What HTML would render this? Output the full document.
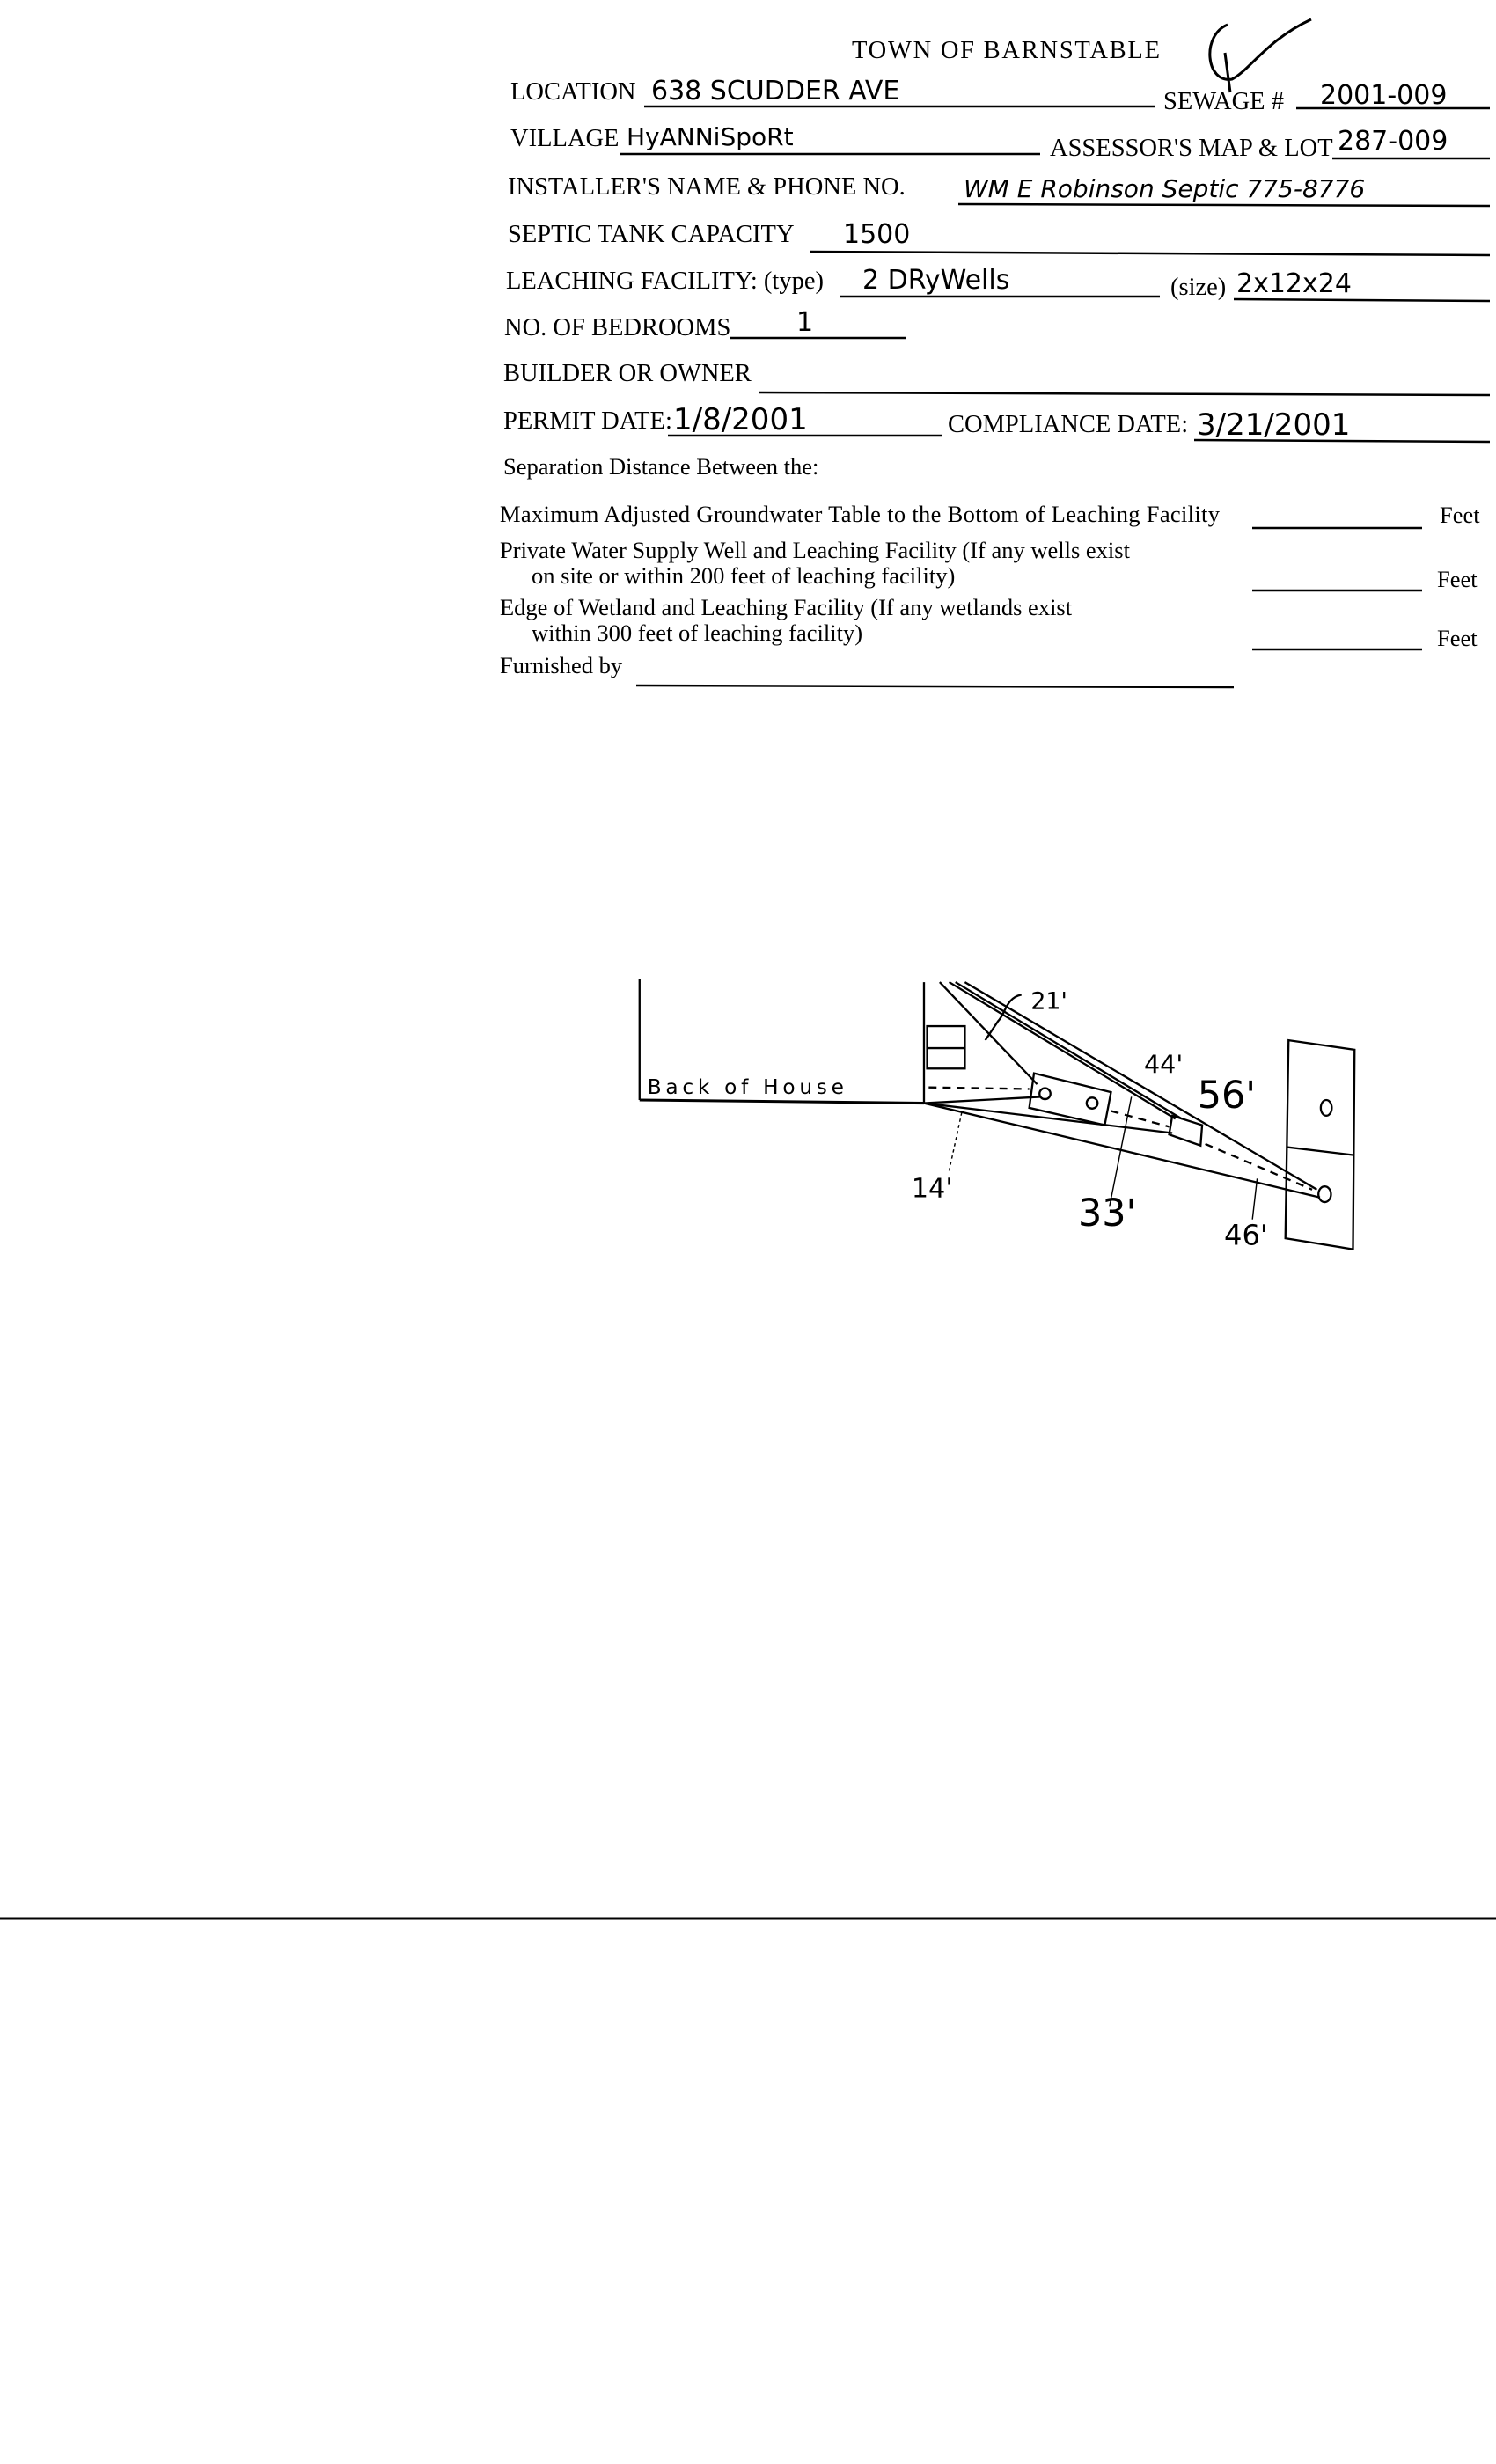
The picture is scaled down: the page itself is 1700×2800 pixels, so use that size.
<!DOCTYPE html>
<html><head><meta charset="utf-8"><style>
html,body{margin:0;padding:0;background:#fff;}
svg{display:block;}
.f{font-family:"Liberation Serif",serif;font-size:28.5px;fill:#000;}
.s{font-family:"Liberation Serif",serif;font-size:26.5px;fill:#000;}
.h{font-family:"DejaVu Sans",sans-serif;font-size:30px;fill:#000;}
.k{font-family:"DejaVu Sans",sans-serif;fill:#000;}
</style></head><body>
<svg width="1700" height="2800" viewBox="0 0 1700 2800" xmlns="http://www.w3.org/2000/svg">
<rect width="1700" height="2800" fill="#fff"/>
<g stroke="#000" stroke-width="2.5" fill="none">
<line x1="732" y1="121" x2="1313" y2="121"/>
<line x1="1473" y1="123" x2="1693" y2="123"/>
<line x1="705" y1="175" x2="1182" y2="175"/>
<line x1="1514" y1="180" x2="1693" y2="180"/>
<line x1="1089" y1="232" x2="1693" y2="234"/>
<line x1="920" y1="286" x2="1693" y2="290"/>
<line x1="955" y1="337" x2="1318" y2="337"/>
<line x1="1402" y1="340" x2="1693" y2="342"/>
<line x1="830" y1="384" x2="1030" y2="384"/>
<line x1="862" y1="446" x2="1693" y2="449"/>
<line x1="759" y1="495" x2="1071" y2="495"/>
<line x1="1357" y1="500" x2="1693" y2="502"/>
<line x1="1423" y1="600" x2="1616" y2="600"/>
<line x1="1423" y1="671" x2="1616" y2="671"/>
<line x1="1423" y1="738" x2="1616" y2="738"/>
<line x1="723" y1="779" x2="1402" y2="781"/>
<line x1="0" y1="2180" x2="1700" y2="2180" stroke-width="3"/>
</g>
<text class="f" x="968" y="66" textLength="350">TOWN OF BARNSTABLE</text>
<text class="f" x="580" y="113">LOCATION</text>
<text class="f" x="1322" y="124">SEWAGE #</text>
<text class="f" x="580" y="166">VILLAGE</text>
<text class="f" x="1193" y="177">ASSESSOR'S MAP &amp; LOT</text>
<text class="f" x="577" y="221">INSTALLER'S NAME &amp; PHONE NO.</text>
<text class="f" x="577" y="275">SEPTIC TANK CAPACITY</text>
<text class="f" x="575" y="328">LEACHING FACILITY: (type)</text>
<text class="f" x="1330" y="335">(size)</text>
<text class="f" x="573" y="381">NO. OF BEDROOMS</text>
<text class="f" x="572" y="433">BUILDER OR OWNER</text>
<text class="f" x="572" y="487">PERMIT DATE:</text>
<text class="f" x="1077" y="491">COMPLIANCE  DATE:</text>
<text class="s" x="572" y="539">Separation Distance Between the:</text>
<text class="s" x="568" y="593" textLength="818">Maximum Adjusted Groundwater Table to the Bottom of Leaching Facility</text>
<text class="s" x="568" y="634">Private Water Supply Well and Leaching Facility  (If any wells exist</text>
<text class="s" x="604" y="663">on site or within 200 feet of leaching facility)</text>
<text class="s" x="568" y="699">Edge of Wetland and Leaching Facility (If any wetlands exist</text>
<text class="s" x="604" y="728">within 300 feet of leaching facility)</text>
<text class="s" x="568" y="765">Furnished by</text>
<text class="s" x="1636" y="594">Feet</text>
<text class="s" x="1633" y="667">Feet</text>
<text class="s" x="1633" y="734">Feet</text>
<g class="h">
<text x="740" y="113">638  SCUDDER  AVE</text>
<text x="1500" y="118">2001-009</text>
<text x="712" y="165" font-size="28">HyANNiSpoRt</text>
<text x="1520" y="170">287-009</text>
<text x="1095" y="224" font-size="28" font-style="italic">WM E Robinson  Septic  775-8776</text>
<text x="958" y="276">1500</text>
<text x="980" y="328">2  DRyWells</text>
<text x="1405" y="332">2x12x24</text>
<text x="905" y="376">1</text>
<text x="765" y="488" font-size="34">1/8/2001</text>
<text x="1360" y="494" font-size="34">3/21/2001</text>
</g>
<path d="M1395 28 C1365 40 1370 95 1400 90 C1420 80 1440 45 1490 22 M1392 60 L1398 105" stroke="#000" stroke-width="3" fill="none"/>
<g transform="scale(1.7857)">
<g stroke="#000" stroke-width="1.3" fill="none">
<line x1="407" y1="623" x2="407" y2="700"/>
<line x1="407" y1="700" x2="588" y2="702" stroke-width="1.7"/>
<line x1="588" y1="625" x2="588" y2="702"/>
<rect x="590" y="653" width="24" height="27"/>
<line x1="590" y1="667" x2="614" y2="667"/>
<line x1="591" y1="692" x2="655" y2="693" stroke-dasharray="5 4"/>
<polygon points="658,683 707,695 703,716 655,705"/>
<circle cx="665" cy="696" r="3.5"/>
<circle cx="695" cy="702" r="3.5"/>
<polygon points="746,710 765,716 764,729 744,722"/>
<polygon points="820,662 862,668 861,795 818,788"/>
<line x1="819" y1="730" x2="861" y2="735"/>
<ellipse cx="844" cy="705" rx="3.5" ry="5"/>
<ellipse cx="843" cy="760" rx="4" ry="5"/>
<line x1="588" y1="702" x2="662" y2="698"/>
<line x1="588" y1="702" x2="746" y2="721"/>
<line x1="588" y1="702" x2="840" y2="762"/>
<line x1="598" y1="625" x2="660" y2="690"/>
<line x1="604" y1="625" x2="748" y2="712"/>
<line x1="608" y1="625" x2="752" y2="712"/>
<line x1="614" y1="625" x2="838" y2="757"/>
<line x1="707" y1="707" x2="744" y2="717" stroke-dasharray="5 4"/>
<line x1="767" y1="728" x2="835" y2="757" stroke-dasharray="5 4"/>
<path d="M650 633 C640 635 640 645 635 650 L627 662"/>
<line x1="612" y1="708" x2="604" y2="745" stroke-width="0.8" stroke-dasharray="2 2"/>
<line x1="720" y1="698" x2="706" y2="768" stroke-width="0.8"/>
<line x1="800" y1="750" x2="797" y2="776" stroke-width="0.8"/>
</g>
<g class="k">
<text x="656" y="642" font-size="15">21'</text>
<text x="728" y="683" font-size="16">44'</text>
<text x="762" y="705" font-size="24">56'</text>
<text x="580" y="762" font-size="17">14'</text>
<text x="686" y="780" font-size="24">33'</text>
<text x="779" y="792" font-size="18">46'</text>
<text x="412" y="696" font-size="13" textLength="125">Back  of  House</text>
</g>
</g>
</svg>
</body></html>
